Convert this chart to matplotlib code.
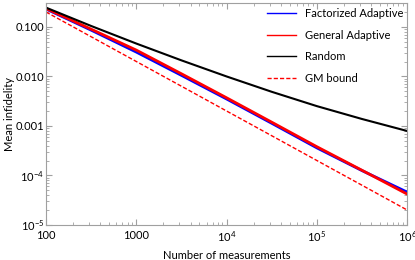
import matplotlib
matplotlib.use('Agg')
import matplotlib.pyplot as plt
import numpy as np

# measurements (half decades)
n_meas = [100, 316, 1000, 3162, 10000, 31623, 100000, 316228, 1000000]

factorized = [0.23, 0.086, 0.031, 0.0105, 0.0035, 0.00113, 0.00036, 0.000125, 0.000046]
general = [0.235, 0.09, 0.034, 0.0113, 0.0037, 0.00119, 0.00038, 0.000127, 0.000042]
random_meas = [0.245, 0.1045, 0.0461, 0.0211, 0.00998, 0.00489, 0.00251, 0.00138, 0.00079]
gm_bound = [0.2, 0.0633, 0.02, 0.00633, 0.002, 0.000633, 0.0002, 0.0000633, 0.00002]

plt.rcParams['font.family'] = ['Lato', 'DejaVu Sans']
plt.rcParams['mathtext.fontset'] = 'custom'
plt.rcParams['mathtext.rm'] = 'Lato'
plt.rcParams['mathtext.it'] = 'Lato'

fig = plt.figure(figsize=(4.15, 2.6), dpi=100)
ax = fig.add_axes([0.111, 0.135, 0.870, 0.855])

ax.loglog(n_meas, factorized, color='#0000ff', lw=2.0, label='Factorized Adaptive')
ax.loglog(n_meas, general, color='#ff0000', lw=2.0, label='General Adaptive')
ax.loglog(n_meas, random_meas, color='black', lw=1.5, label='Random')
ax.loglog(n_meas, gm_bound, color='#ff0000', lw=1.0, ls=(0, (3, 1.5)), label='GM bound')

ax.set_xlim(100, 1e6)
ax.set_ylim(1e-5, 0.31)

ax.set_xticks([100, 1000, 1e4, 1e5, 1e6])
ax.set_xticklabels(['100', '1000', r'$10^4$', r'$10^5$', r'$10^6$'])
ax.set_yticks([1e-5, 1e-4, 1e-3, 1e-2, 1e-1])
ax.set_yticklabels([r'$10^{-5}$', r'$10^{-4}$', '0.001', '0.010', '0.100'])

for s in ax.spines.values():
    s.set_color('#a0a0a0')
ax.tick_params(which='both', direction='in', top=True, right=True, color='#a0a0a0', labelsize=8)
ax.tick_params(axis='y', pad=1.5)
ax.tick_params(axis='x', pad=3.5)
ax.tick_params(which='major', length=4)
ax.tick_params(which='minor', length=2)

ax.set_xlabel('Number of measurements', fontsize=8)
ax.set_ylabel('Mean infidelity', fontsize=8)
ax.yaxis.set_label_coords(-0.085, 0.5)

leg = ax.legend(loc='upper right', frameon=False, fontsize=8, handlelength=2.6, labelspacing=0.95,
                bbox_to_anchor=(1.018, 1.02))
for h in leg.get_lines():
    h.set_linewidth(1.0)

fig.savefig('out.png', dpi=100)
